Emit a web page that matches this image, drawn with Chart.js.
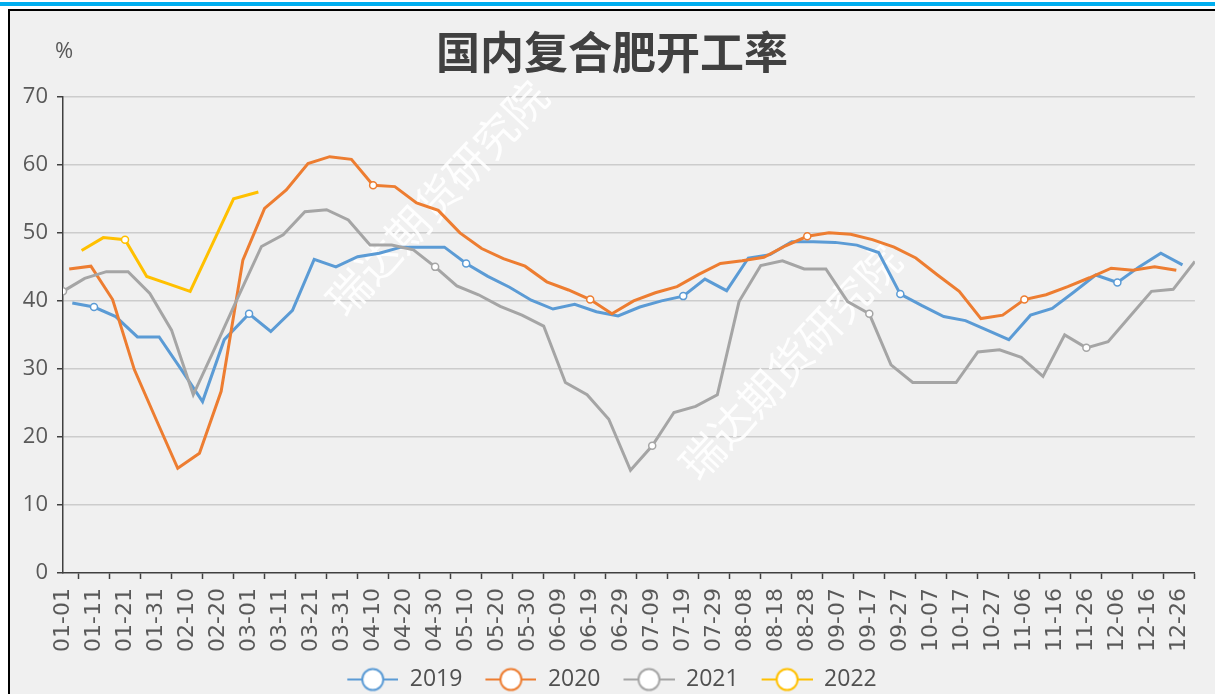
<!DOCTYPE html>
<html>
<head>
<meta charset="utf-8">
<script src="https://cdn.jsdelivr.net/npm/chart.js@4.4.1/dist/chart.umd.min.js"></script>
<style>
  html, body { margin: 0; padding: 0; width: 1215px; height: 694px; overflow: hidden; background: #fff; }
  #topbar { position: absolute; left: 0; top: 2px; width: 1215px; height: 4px; background: #00aeef; }
  #frame { position: absolute; left: 8px; top: 9px; width: 1207px; height: 685px; box-sizing: border-box;
           border-left: 2px solid #000; border-top: 2px solid #000; background: #f0f0f0; }
  #wrap { position: absolute; left: 10px; top: 11px; width: 1205px; height: 690px; }
</style>
</head>
<body>
<div id="topbar"></div>
<div id="frame"></div>
<div id="wrap"><canvas id="myChart"></canvas></div>
<script>
// weekly readings, MM-DD of each year
const dates2019 = ['01-04','01-11','01-18','01-25','02-01','02-08','02-15','02-22','03-01','03-08','03-15','03-22','03-29',
  '04-05','04-12','04-19','04-26','05-03','05-10','05-17','05-24','05-31','06-07','06-14','06-21','06-28',
  '07-05','07-12','07-19','07-26','08-02','08-09','08-16','08-23','08-30','09-06','09-13','09-20','09-27',
  '10-04','10-11','10-18','10-25','11-01','11-08','11-15','11-22','11-29','12-06','12-13','12-20','12-27'];
const values2019 = [39.7, 39.1, 37.7, 34.7, 34.7, 30.0, 25.2, 34.3, 38.1, 35.5, 38.6, 46.1, 45.0,
  46.5, 47.0, 47.9, 47.9, 47.9, 45.5, 43.6, 42.0, 40.1, 38.8, 39.5, 38.4, 37.8,
  39.1, 40.0, 40.7, 43.2, 41.5, 46.3, 46.8, 48.7, 48.7, 48.6, 48.2, 47.1, 41.0,
  39.3, 37.7, 37.1, 35.7, 34.3, 37.9, 38.9, 41.3, 43.8, 42.7, 45.0, 47.0, 45.3];

const dates2020 = ['01-03','01-10','01-17','01-24','01-31','02-07','02-14','02-21','02-28','03-06','03-13','03-20','03-27',
  '04-03','04-10','04-17','04-24','05-01','05-08','05-15','05-22','05-29','06-05','06-12','06-19','06-26',
  '07-03','07-10','07-17','07-24','07-31','08-07','08-14','08-21','08-28','09-04','09-11','09-18','09-25',
  '10-02','10-09','10-16','10-23','10-30','11-06','11-13','11-20','11-27','12-04','12-11','12-18','12-25'];
const values2020 = [44.7, 45.1, 40.2, 29.9, 22.6, 15.4, 17.6, 26.7, 46.0, 53.6, 56.3, 60.2, 61.2,
  60.8, 57.0, 56.8, 54.4, 53.3, 50.0, 47.7, 46.2, 45.1, 42.8, 41.6, 40.2, 38.1,
  40.0, 41.2, 42.1, 43.9, 45.5, 45.9, 46.4, 48.1, 49.5, 50.0, 49.8, 49.0, 47.9,
  46.3, 43.8, 41.4, 37.4, 37.9, 40.2, 40.9, 42.1, 43.4, 44.8, 44.5, 45.0, 44.5];

const dates2021 = ['01-01','01-08','01-15','01-22','01-29','02-05','02-12','02-19','02-26','03-05','03-12','03-19','03-26',
  '04-02','04-09','04-16','04-23','04-30','05-07','05-14','05-21','05-28','06-04','06-11','06-18','06-25',
  '07-02','07-09','07-16','07-23','07-30','08-06','08-13','08-20','08-27','09-03','09-10','09-17','09-24',
  '10-01','10-08','10-15','10-22','10-29','11-05','11-12','11-19','11-26','12-03','12-10','12-17','12-24','12-31'];
const values2021 = [41.4, 43.3, 44.3, 44.3, 41.1, 35.7, 26.2, 33.1, 40.1, 48.0, 49.7, 53.1, 53.4,
  51.9, 48.2, 48.2, 47.5, 45.0, 42.2, 40.9, 39.2, 37.9, 36.3, 28.0, 26.2, 22.6,
  15.1, 18.7, 23.6, 24.5, 26.2, 39.9, 45.2, 45.9, 44.7, 44.7, 39.9, 38.1, 30.6,
  28.0, 28.0, 28.0, 32.5, 32.8, 31.7, 28.9, 35.0, 33.1, 34.0, 37.7, 41.4, 41.7, 45.8];

const dates2022 = ['01-07','01-14','01-21','01-28','02-04','02-11','02-18','02-25','03-04'];
const values2022 = [47.4, 49.3, 49.0, 43.6, 42.5, 41.4, 48.2, 55.0, 56.0];

// points that show a marker
const marks2019 = ['01-11','03-01','05-10','07-19','09-27','12-06'];
const marks2020 = ['04-10','06-19','08-28','11-06'];
const marks2021 = ['01-01','04-30','07-09','09-17','11-26'];
const marks2022 = ['01-21'];

const seriesNames = ['2019', '2020', '2021', '2022'];
const seriesColors = ['#5b9bd5', '#ed7d31', '#a5a5a5', '#ffc000'];

const titleText = '国内复合肥开工率';
const unitText = '%';
const watermarkText = '瑞达期货研究院';

const DAY = 86400000;
const yearStart = Date.UTC(2020, 0, 1);

function dayIndex(md) {
    const [m, d] = md.split('-').map(Number);
    return Math.round((Date.UTC(2020, m - 1, d) - yearStart) / DAY);
}

function dayLabel(i) {
    const dt = new Date(yearStart + i * DAY);
    return String(dt.getUTCMonth() + 1).padStart(2, '0') + '-' + String(dt.getUTCDate()).padStart(2, '0');
}

function buildSeries(i, dates, values, marks) {
    return {
        label: seriesNames[i],
        data: dates.map((d, k) => ({ x: dayIndex(d), y: values[k] })),
        borderColor: seriesColors[i],
        backgroundColor: seriesColors[i],
        borderWidth: 3,
        tension: 0,
        pointRadius: dates.map(d => marks.includes(d) ? 3.5 : 0),
        pointHoverRadius: 0,
        pointBackgroundColor: '#ffffff',
        pointBorderColor: seriesColors[i],
        pointBorderWidth: 1.5,
        order: 4 - i
    };
}

// legend icon: short line with a hollow circle (blank strip on the left = gap to previous item)
function legendIcon(color) {
    const c = document.createElement('canvas');
    c.width = 64;
    c.height = 26;
    const g = c.getContext('2d');
    g.strokeStyle = color;
    g.lineWidth = 2;
    g.beginPath();
    g.moveTo(13, 13);
    g.lineTo(64, 13);
    g.stroke();
    g.beginPath();
    g.arc(38.5, 13, 10.5, 0, Math.PI * 2);
    g.fillStyle = '#ffffff';
    g.fill();
    g.stroke();
    return c;
}
const legendIcons = seriesColors.map(legendIcon);

const decor = {
    id: 'decor',
    afterLayout(chart) {
        // keep the visible legend row centred under the title
        chart.legend.left -= 6.5;
        chart.legend.right -= 6.5;
    },
    beforeDatasetsDraw(chart) {
        const ctx = chart.ctx;
        ctx.save();
        ctx.font = '43px "Noto Sans CJK SC"';
        ctx.fillStyle = 'rgba(255,255,255,0.9)';
        ctx.textAlign = 'center';
        ctx.textBaseline = 'middle';
        [[427, 187], [780, 351]].forEach(([x, y]) => {
            ctx.save();
            ctx.translate(x, y);
            ctx.rotate(-47 * Math.PI / 180);
            ctx.fillText(watermarkText, 0, 0);
            ctx.restore();
        });
        ctx.restore();
    },
    afterDraw(chart) {
        const ctx = chart.ctx;
        ctx.save();
        ctx.font = '22px "Open Sans"';
        ctx.fillStyle = '#595959';
        ctx.textAlign = 'center';
        ctx.textBaseline = 'middle';
        ctx.fillText(unitText, chart.chartArea.left + 1, 41);
        ctx.restore();
    }
};

const data = {
    datasets: [
        buildSeries(0, dates2019, values2019, marks2019),
        buildSeries(1, dates2020, values2020, marks2020),
        buildSeries(2, dates2021, values2021, marks2021),
        buildSeries(3, dates2022, values2022, marks2022)
    ]
};

const config = {
    type: 'line',
    data: data,
    plugins: [decor],
    options: {
        animation: false,
        responsive: true,
        maintainAspectRatio: false,
        events: [],
        layout: { padding: { left: 13, right: 14, top: 0, bottom: 0 } },
        plugins: {
            tooltip: { enabled: false },
            title: {
                display: true,
                text: titleText,
                color: '#404040',
                font: { family: 'Noto Sans CJK SC', size: 44, weight: 'bold', lineHeight: 1.2 },
                padding: { top: 15, bottom: 18 }
            },
            legend: {
                position: 'bottom',
                labels: {
                    usePointStyle: true,
                    pointStyleWidth: 64,
                    padding: 10,
                    color: '#505050',
                    font: { family: 'Open Sans', size: 23 },
                    generateLabels(chart) {
                        const items = Chart.defaults.plugins.legend.labels.generateLabels(chart);
                        items.sort((a, b) => a.datasetIndex - b.datasetIndex);
                        items.forEach(it => { it.pointStyle = legendIcons[it.datasetIndex]; });
                        return items;
                    }
                }
            }
        },
        scales: {
            x: {
                type: 'linear',
                min: 0,
                max: 365,
                afterFit: s => { s.height = 85; },
                border: { display: true, color: '#404040', width: 1.5 },
                grid: { drawOnChartArea: false, drawTicks: true, offset: true, tickLength: 6, tickColor: '#404040', tickWidth: 1.5 },
                ticks: {
                    stepSize: 10,
                    includeBounds: false,
                    autoSkip: false,
                    maxRotation: 90,
                    minRotation: 90,
                    padding: 9,
                    color: '#595959',
                    font: { family: 'DejaVu Sans', size: 22 },
                    callback: v => dayLabel(v)
                }
            },
            y: {
                min: 0,
                max: 70,
                afterFit: s => { s.width = 40; },
                border: { display: true, color: '#404040', width: 1.5 },
                grid: {
                    color: c => (c.tick && c.tick.value === 0) ? 'rgba(0,0,0,0)' : '#cccccc',
                    lineWidth: 1.5,
                    drawTicks: true,
                    tickLength: 6,
                    tickColor: '#404040',
                    tickWidth: 1.5
                },
                ticks: { stepSize: 10, padding: 9, color: '#595959', font: { family: 'Open Sans', size: 22 } }
            }
        }
    }
};

const myChart = new Chart(document.getElementById('myChart'), config);
</script>
</body>
</html>
